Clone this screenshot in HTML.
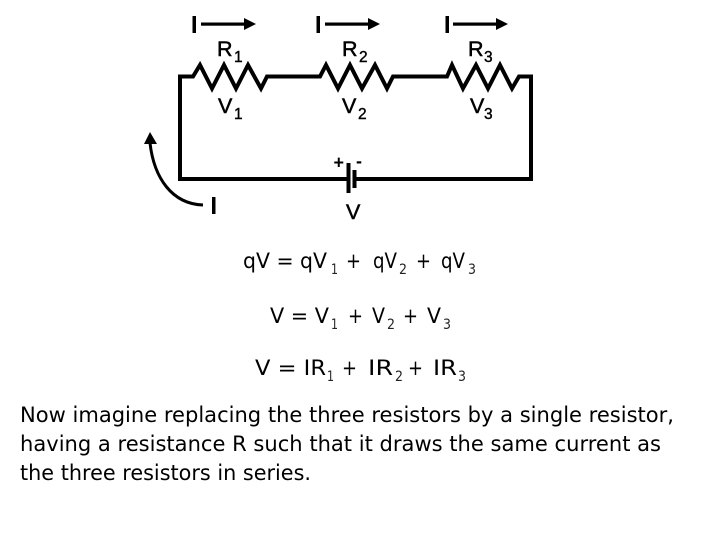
<!DOCTYPE html>
<html><head><meta charset="utf-8"><style>
html,body{margin:0;padding:0;background:#fff}
svg{display:block}
.a{font-family:"Liberation Sans",sans-serif;fill:#000}
.t{font-family:"DejaVu Sans",sans-serif;fill:#000;font-size:21px}
.s{font-family:"DejaVu Sans",sans-serif;fill:#222;font-size:14px}
.l{font-size:21.500px;stroke:#000;stroke-width:.5}
.n{font-size:15.500px;stroke:#000;stroke-width:.4}
</style></head><body>
<svg width="720" height="540" viewBox="0 0 720 540" xmlns="http://www.w3.org/2000/svg">
<rect width="720" height="540" fill="#fff"/>
<!-- circuit -->
<path d="M348 179H180V76.500H193L200 65L212 88.500L224 65L236 88.500L248 65L261 88.500L267 76.500H320L326 65L338 88.500L350 65L362 88.500L375 65L387 88.500L393 76.500H447L452 65L463 88.500L476 65L488 88.500L500 65L512 88.500L519 76.500H531V179H354" fill="none" stroke="#000" stroke-width="4" stroke-linejoin="miter"/>
<rect x="346.500" y="163" width="4" height="30" fill="#000"/>
<rect x="352.500" y="170" width="4" height="18" fill="#000"/>
<!-- current arrows -->
<g fill="#000">
<rect x="192.500" y="16" width="3.500" height="17"/>
<rect x="201" y="22.500" width="44" height="3.200"/><path d="M244 18L256 24L244 30Z"/>
<rect x="316.500" y="16" width="3.500" height="17"/>
<rect x="325" y="22.500" width="44" height="3.200"/><path d="M368 18L380 24L368 30Z"/>
<rect x="445.500" y="16" width="3.500" height="17"/>
<rect x="453" y="22.500" width="44" height="3.200"/><path d="M496 18L508 24L496 30Z"/>
<rect x="212" y="197" width="3.500" height="17"/>
<path d="M150 132L157 144H144Z"/>
</g>
<path d="M203 205C172 204 154 178 150 143" fill="none" stroke="#000" stroke-width="3"/>
<!-- labels -->
<text class="a l" x="217" y="56">R</text><text class="a n" x="234" y="62">1</text>
<text class="a l" x="342" y="56">R</text><text class="a n" x="359" y="62">2</text>
<text class="a l" x="468" y="56">R</text><text class="a n" x="484" y="62">3</text>
<text class="a l" x="218" y="113">V</text><text class="a n" x="234" y="119">1</text>
<text class="a l" x="342" y="113">V</text><text class="a n" x="358" y="119">2</text>
<text class="a l" x="470" y="113">V</text><text class="a n" x="484" y="119">3</text>
<text class="a l" x="346" y="219">V</text>
<text class="a" x="333.500" y="168.500" font-size="18" font-weight="bold">+</text>
<text class="a" x="356" y="167" font-size="18" font-weight="bold">-</text>
<!-- equation 1 -->
<text class="t" x="243" y="268" textLength="84" lengthAdjust="spacingAndGlyphs">qV = qV</text>
<text class="s" x="331" y="274" textLength="7" lengthAdjust="spacingAndGlyphs">1</text>
<text class="t" x="346" y="268" textLength="15" lengthAdjust="spacingAndGlyphs">+</text>
<text class="t" x="373" y="268" textLength="24" lengthAdjust="spacingAndGlyphs">qV</text>
<text class="s" x="399" y="274" textLength="8" lengthAdjust="spacingAndGlyphs">2</text>
<text class="t" x="416" y="268" textLength="15" lengthAdjust="spacingAndGlyphs">+</text>
<text class="t" x="441" y="268" textLength="24" lengthAdjust="spacingAndGlyphs">qV</text>
<text class="s" x="468" y="274" textLength="8" lengthAdjust="spacingAndGlyphs">3</text>
<!-- equation 2 -->
<text class="t" x="270" y="323" textLength="59" lengthAdjust="spacingAndGlyphs">V = V</text>
<text class="s" x="331" y="329" textLength="7" lengthAdjust="spacingAndGlyphs">1</text>
<text class="t" x="348" y="323" textLength="15" lengthAdjust="spacingAndGlyphs">+</text>
<text class="t" x="372" y="323" textLength="13" lengthAdjust="spacingAndGlyphs">V</text>
<text class="s" x="387" y="329" textLength="8" lengthAdjust="spacingAndGlyphs">2</text>
<text class="t" x="403" y="323" textLength="15" lengthAdjust="spacingAndGlyphs">+</text>
<text class="t" x="427" y="323" textLength="14" lengthAdjust="spacingAndGlyphs">V</text>
<text class="s" x="443" y="329" textLength="8" lengthAdjust="spacingAndGlyphs">3</text>
<!-- equation 3 -->
<text class="t" x="255" y="375" textLength="71" lengthAdjust="spacingAndGlyphs">V = IR</text>
<text class="s" x="327" y="381" textLength="7" lengthAdjust="spacingAndGlyphs">1</text>
<text class="t" x="342" y="375" textLength="15" lengthAdjust="spacingAndGlyphs">+</text>
<text class="t" x="368" y="375" textLength="25" lengthAdjust="spacingAndGlyphs">IR</text>
<text class="s" x="395" y="381" textLength="8" lengthAdjust="spacingAndGlyphs">2</text>
<text class="t" x="408" y="375" textLength="15" lengthAdjust="spacingAndGlyphs">+</text>
<text class="t" x="433" y="375" textLength="24" lengthAdjust="spacingAndGlyphs">IR</text>
<text class="s" x="458" y="381" textLength="8" lengthAdjust="spacingAndGlyphs">3</text>
<!-- paragraph -->
<text class="t" x="20" y="422" textLength="654" lengthAdjust="spacingAndGlyphs">Now imagine replacing the three resistors by a single resistor,</text>
<text class="t" x="20" y="451" textLength="641" lengthAdjust="spacingAndGlyphs">having a resistance R such that it draws the same current as</text>
<text class="t" x="20" y="480" textLength="291" lengthAdjust="spacingAndGlyphs">the three resistors in series.</text>
</svg>
</body></html>
